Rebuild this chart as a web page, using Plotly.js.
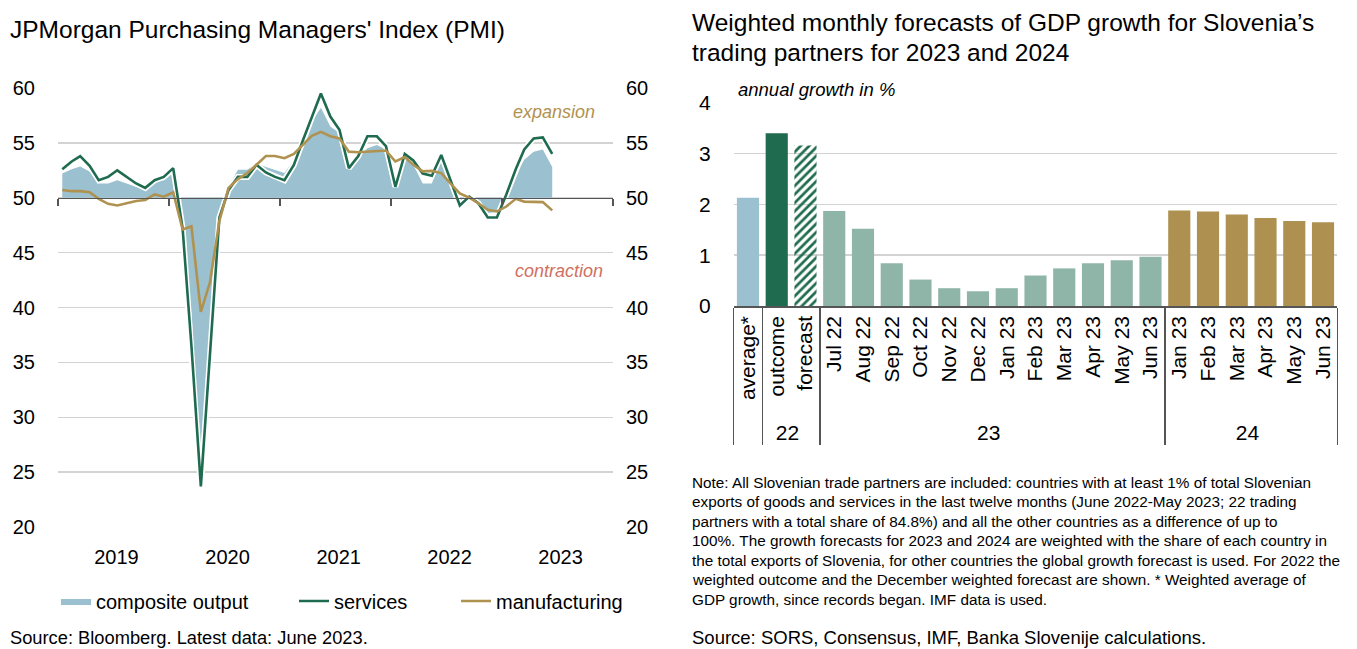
<!DOCTYPE html>
<html>
<head>
<meta charset="utf-8">
<script src="https://cdn.plot.ly/plotly-3.0.1.min.js"></script>
<style>
  html, body { margin: 0; padding: 0; background: #fff; }
  #chart { width: 1357px; height: 649px; }
</style>
</head>
<body>
<div id="chart"></div>
<script>
// ---------------- DATA ----------------
// Left chart: JPMorgan PMI, monthly Jan 2019 - Jun 2023
const pmiStart = [2019, 1];
const composite = [
  52.2, 52.6, 52.85, 52.4, 51.3, 51.3, 51.6, 51.3, 51.0, 50.7, 51.5, 51.6,
  52.25, 46.1, 39.4, 26.0, 36.3, 47.8, 51.0, 52.55, 52.55, 53.15, 52.8, 52.5,
  52.25, 53.45, 55.3, 56.95, 58.2, 56.5, 55.9, 52.7, 53.7, 54.5, 54.8, 54.4,
  50.9, 53.6, 53.0, 51.3, 51.3, 53.6, 51.2, 49.7, 50.0, 49.2, 48.6, 48.7,
  49.9, 52.1, 53.46, 54.2, 54.4, 52.8
];
const services = [
  52.6, 53.3, 53.8, 52.9, 51.6, 51.9, 52.5, 51.9, 51.3, 50.9, 51.6, 51.9,
  52.7, 47.2, 36.5, 23.7, 35.5, 48.2, 50.7, 51.9, 51.9, 53.0, 52.3, 51.9,
  51.6, 53.0, 55.1, 57.4, 59.5, 57.4, 56.2, 52.7, 53.8, 55.6, 55.6, 54.7,
  51.0, 54.0, 53.4, 52.2, 52.0, 53.9, 51.6, 49.3, 50.1, 49.5, 48.2, 48.2,
  50.3, 52.6, 54.4, 55.4, 55.5, 54.0
];
const manufacturing = [
  50.7, 50.6, 50.6, 50.5, 49.9, 49.45, 49.3, 49.5, 49.7, 49.8, 50.3, 50.1,
  50.5, 47.1, 47.4, 39.6, 42.3, 47.9, 50.9, 51.7, 52.25, 53.0, 53.8, 53.8,
  53.6, 54.0, 54.8, 55.65, 56.0, 55.6, 55.4, 54.2, 54.15, 54.2, 54.2, 54.3,
  53.3, 53.7, 53.0, 52.4, 52.45, 52.25, 51.3, 50.4, 50.0, 49.5, 48.9, 48.75,
  49.2, 49.9, 49.65, 49.6, 49.6, 48.85
];
const pmiThreshold = 50;
const pmiYearTicks = ['2019-01-01', '2020-01-01', '2021-01-01', '2022-01-01', '2023-01-01', '2024-01-01'];

// Right chart: weighted GDP growth forecasts
const barGroups = [' ', '22', '22',
  '23', '23', '23', '23', '23', '23', '23', '23', '23', '23', '23', '23',
  '24', '24', '24', '24', '24', '24'];
const barLabels = ['average*', 'outcome', 'forecast',
  'Jul 22', 'Aug 22', 'Sep 22', 'Oct 22', 'Nov 22', 'Dec 22', 'Jan 23', 'Feb 23', 'Mar 23', 'Apr 23', 'May 23', 'Jun 23',
  'Jan 23', 'Feb 23', 'Mar 23', 'Apr 23', 'May 23', 'Jun 23'];
const barValues = [2.13, 3.40, 3.16,
  1.87, 1.52, 0.84, 0.52, 0.35, 0.29, 0.35, 0.60, 0.74, 0.84, 0.90, 0.97,
  1.88, 1.86, 1.80, 1.73, 1.67, 1.65];

const noteLines = [
  'Note: All Slovenian trade partners are included: countries with at least 1% of total Slovenian',
  'exports of goods and services in the last twelve months (June 2022-May 2023; 22 trading',
  'partners with a total share of 84.8%) and all the other countries as a difference of up to',
  '100%. The growth forecasts for 2023 and 2024 are weighted with the share of each country in',
  'the total exports of Slovenia, for other countries the global growth forecast is used. For 2022 the',
  'weighted outcome and the December weighted forecast are shown. * Weighted average of',
  'GDP growth, since records began. IMF data is used.'
];

// ---------------- STYLE ----------------
const W = 1357, H = 649;
const FONT = '"Liberation Sans", Arial, sans-serif';
const C_BLUE = '#9bc0cf', C_GREEN = '#1f6b4f', C_GOLD = '#b09250', C_SAGE = '#8fb5a8';
const GRID = '#d3d3d3', AXIS = '#555555';
const px = v => v / W;
const py = v => 1 - v / H;

// month dates
const months = composite.map((_, i) => {
  const m = pmiStart[1] - 1 + i;
  const y = pmiStart[0] + Math.floor(m / 12);
  const mm = String(m % 12 + 1).padStart(2, '0');
  return `${y}-${mm}-15`;
});
const xRange = ['2019-01-01', '2024-01-01'];

const leftYDomain = [py(527), py(88)];
const leftYRange = [20, 60];
const axis50Pos = leftYDomain[0] + (pmiThreshold - leftYRange[0]) / (leftYRange[1] - leftYRange[0]) * (leftYDomain[1] - leftYDomain[0]);

const groupColor = {' ': C_BLUE, '22': C_GREEN, '23': C_SAGE, '24': '#ae9150'};

const traces = [
  { // baseline at the 50 threshold for the area fill
    x: [months[0], months[months.length - 1]], y: [pmiThreshold, pmiThreshold],
    xaxis: 'x', yaxis: 'y', mode: 'lines', line: {width: 0, color: 'rgba(0,0,0,0)'},
    showlegend: false, hoverinfo: 'skip'
  },
  {
    x: months, y: composite, name: 'composite output',
    xaxis: 'x', yaxis: 'y', mode: 'lines', fill: 'tonexty',
    fillcolor: C_BLUE, line: {width: 0, color: C_BLUE}, legend: 'legend'
  },
  { // white halo under services line
    x: months, y: services, xaxis: 'x2', yaxis: 'y2', mode: 'lines',
    line: {color: '#ffffff', width: 6}, showlegend: false, hoverinfo: 'skip'
  },
  {
    x: months, y: services, name: 'services', xaxis: 'x2', yaxis: 'y2', mode: 'lines',
    line: {color: C_GREEN, width: 2.6}, legend: 'legend2'
  },
  {
    x: months, y: manufacturing, name: 'manufacturing', xaxis: 'x2', yaxis: 'y2', mode: 'lines',
    line: {color: C_GOLD, width: 2.6}, legend: 'legend3'
  },
  {
    type: 'bar', x: [barGroups, barLabels], y: barValues, xaxis: 'x3', yaxis: 'y3',
    marker: {
      color: barGroups.map(g => groupColor[g]),
      line: {width: 0},
      pattern: {
        shape: barLabels.map(l => l === 'forecast' ? '/' : ''),
        fgcolor: '#ffffff', size: 6, solidity: 0.45
      }
    },
    showlegend: false
  }
];

const tickFontL = {family: FONT, size: 20, color: '#000'};
const tickFontR = {family: FONT, size: 21, color: '#000'};

const legendBase = {
  orientation: 'h', yanchor: 'middle', y: py(601), xanchor: 'left',
  font: {family: FONT, size: 20, color: '#000'}, bgcolor: 'rgba(0,0,0,0)', borderwidth: 0
};

const annotations = [
  {text: "JPMorgan Purchasing Managers' Index (PMI)", x: px(8), y: py(30), xanchor: 'left', yanchor: 'middle',
   font: {family: FONT, size: 24.5, color: '#000'}},
  {text: 'expansion', x: px(554), y: py(112), xanchor: 'center', yanchor: 'middle',
   font: {family: FONT, size: 18, color: C_GOLD, style: 'italic'}},
  {text: 'contraction', x: px(559), y: py(271), xanchor: 'center', yanchor: 'middle',
   font: {family: FONT, size: 18, color: '#d0705f', style: 'italic'}},
  {text: 'Source: Bloomberg. Latest data: June 2023.', x: px(8), y: py(637), xanchor: 'left', yanchor: 'middle',
   font: {family: FONT, size: 18.3, color: '#000'}},
  {text: 'Weighted monthly forecasts of GDP growth for Slovenia’s', x: px(690), y: py(22), xanchor: 'left', yanchor: 'middle',
   font: {family: FONT, size: 24.5, color: '#000'}},
  {text: 'trading partners for 2023 and 2024', x: px(690), y: py(52), xanchor: 'left', yanchor: 'middle',
   font: {family: FONT, size: 24.5, color: '#000'}},
  {text: 'annual growth in %', x: px(736), y: py(90), xanchor: 'left', yanchor: 'middle',
   font: {family: FONT, size: 18.5, color: '#000', style: 'italic'}},
  {text: 'Source: SORS, Consensus, IMF, Banka Slovenije calculations.', x: px(690), y: py(637), xanchor: 'left', yanchor: 'middle',
   font: {family: FONT, size: 18.5, color: '#000'}}
];
const noteY0 = 482, noteStep = 19.5;
noteLines.forEach((t, i) => annotations.push({
  text: t, x: px(690), y: py(noteY0 + i * noteStep), xanchor: 'left', yanchor: 'middle',
  font: {family: FONT, size: 15.3, color: '#000'}
}));
annotations.forEach(a => { a.xref = 'paper'; a.yref = 'paper'; a.showarrow = false; });

const layout = {
  width: W, height: H,
  margin: {l: 0, r: 0, t: 0, b: 0},
  paper_bgcolor: '#ffffff', plot_bgcolor: 'rgba(0,0,0,0)',
  font: {family: FONT, color: '#000'},
  showlegend: true,
  legend: Object.assign({}, legendBase, {x: px(56)}),
  legend2: Object.assign({}, legendBase, {x: px(294)}),
  legend3: Object.assign({}, legendBase, {x: px(456)}),
  xaxis: {
    domain: [px(58), px(613)], type: 'date', range: xRange,
    anchor: 'free', position: axis50Pos,
    tickmode: 'array', tickvals: pmiYearTicks, showticklabels: false,
    ticks: 'outside', ticklen: 7, tickwidth: 1.5, tickcolor: AXIS,
    showline: true, linecolor: AXIS, linewidth: 1.6, showgrid: false, zeroline: false
  },
  xaxis2: {
    overlaying: 'x', anchor: 'y2', type: 'date', range: xRange,
    dtick: 'M12', tick0: '2019-01-01', ticklabelmode: 'period', tickformat: '%Y',
    ticks: '', showline: false, showgrid: false, zeroline: false,
    tickfont: tickFontL, ticklabelstandoff: 16, ticklabelshift: 3
  },
  yaxis: {
    domain: leftYDomain, range: leftYRange, dtick: 5, anchor: 'x',
    showgrid: true, gridcolor: GRID, gridwidth: 1.5, zeroline: false, showline: false,
    ticks: '', tickfont: tickFontL, ticklabelstandoff: 22
  },
  yaxis2: {
    overlaying: 'y', side: 'right', anchor: 'x2', range: leftYRange, dtick: 5,
    showgrid: false, zeroline: false, showline: false,
    ticks: '', tickfont: tickFontL, ticklabelstandoff: 12
  },
  xaxis3: {
    domain: [px(733.6), px(1337.4)], anchor: 'y3', type: 'multicategory',
    tickmode: 'linear', tick0: 0, dtick: 1,
    tickangle: -90, tickfont: tickFontR, ticks: '',
    showdividers: true, dividercolor: AXIS, dividerwidth: 1.3,
    showline: true, linecolor: AXIS, linewidth: 1.6, showgrid: false, zeroline: false
  },
  yaxis3: {
    domain: [py(306), py(102.7)], anchor: 'x3', range: [0, 4], dtick: 1,
    showgrid: true, gridcolor: GRID, gridwidth: 1.5, zeroline: false, showline: false,
    ticks: '', tickfont: tickFontR, ticklabelstandoff: 22
  },
  bargap: 0.23,
  annotations: annotations
};

Plotly.newPlot('chart', traces, layout, {staticPlot: true, displayModeBar: false});
</script>
</body>
</html>
